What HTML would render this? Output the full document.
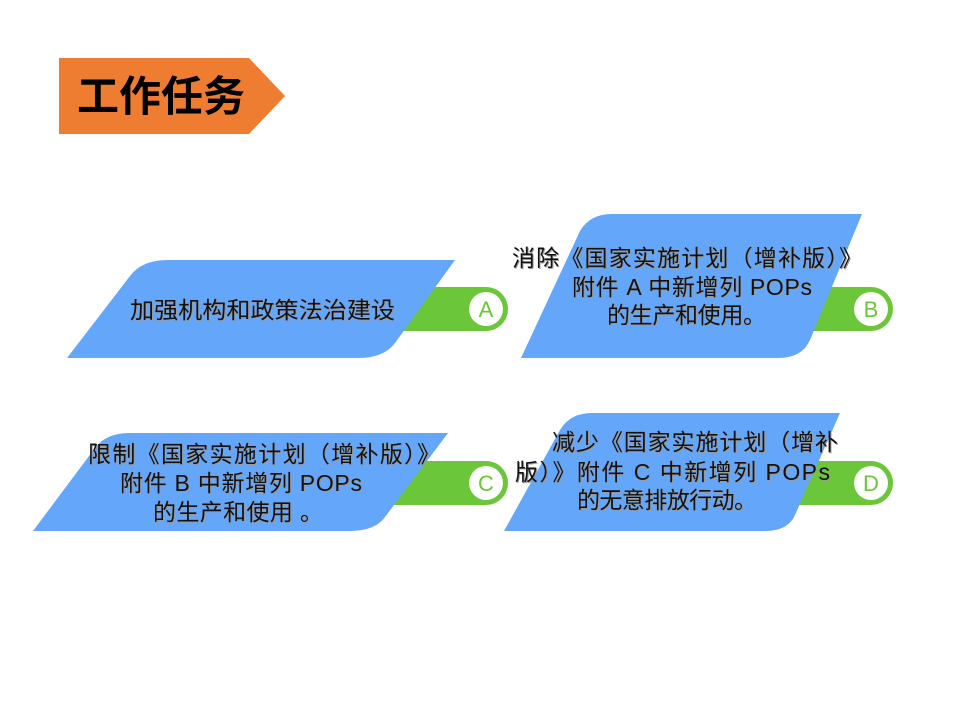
<!DOCTYPE html>
<html><head><meta charset="utf-8"><style>
html,body{margin:0;padding:0;background:#fff;}
svg{display:block}
text{font-family:"Liberation Sans","Noto Sans CJK SC",sans-serif;}
.t{font-size:23px;fill:#111;}
.s{font-size:23px;fill:#9a9a9a;}
.l{font-size:22px;fill:#6cc63a;text-anchor:middle;}
</style></head><body>
<svg width="960" height="720" viewBox="0 0 960 720">
<rect width="960" height="720" fill="#fff"/>
<polygon points="59,58 249,58 285,96 249,134 59,134" fill="#ef7d31"/>
<text x="161" y="111" style="font-size:42px;font-weight:bold;text-anchor:middle;fill:#000">工作任务</text>

<!-- A -->
<path d="M405,287 L486,287 A22,22 0 0 1 486,331 L390,331 Z" fill="#6cc63a"/>
<circle cx="486" cy="309" r="17" fill="#fff"/>
<text class="l" x="486" y="317">A</text>
<path d="M67,358 L130,276 Q142,260 168,260 L455,260 L395,343 Q384,358 358,358 Z" fill="#64a6fa"/>
<text class="s" x="131" y="319" textLength="265" lengthAdjust="spacingAndGlyphs">加强机构和政策法治建设</text>
<text class="t" x="130" y="318" textLength="265" lengthAdjust="spacingAndGlyphs">加强机构和政策法治建设</text>

<!-- B -->
<path d="M800,287 L871,287 A22,22 0 0 1 871,331 L790,331 Z" fill="#6cc63a"/>
<circle cx="871" cy="309" r="17" fill="#fff"/>
<text class="l" x="871" y="317">B</text>
<path d="M521,358 L580,231 Q590,214 612,214 L862,214 L810,340 Q802,358 778,358 Z" fill="#64a6fa"/>
<text class="s" x="513" y="267" textLength="350" lengthAdjust="spacing">消除《国家实施计划（增补版）》</text>
<text class="t" x="512" y="266" textLength="350" lengthAdjust="spacing">消除《国家实施计划（增补版）》</text>
<text class="s" x="573" y="296" textLength="240" lengthAdjust="spacing">附件 A 中新增列 POPs</text>
<text class="t" x="572" y="295" textLength="240" lengthAdjust="spacing">附件 A 中新增列 POPs</text>
<text class="s" x="608" y="324" textLength="159" lengthAdjust="spacing">的生产和使用。</text>
<text class="t" x="607" y="323" textLength="159" lengthAdjust="spacing">的生产和使用。</text>

<!-- C -->
<path d="M400,461 L486,461 A22,22 0 0 1 486,505 L380,505 Z" fill="#6cc63a"/>
<circle cx="486" cy="483" r="17" fill="#fff"/>
<text class="l" x="486" y="491">C</text>
<path d="M33,531 L95,448 Q106,433 130,433 L448,433 L385,517 Q375,531 350,531 Z" fill="#64a6fa"/>
<text class="s" x="89" y="463" textLength="352" lengthAdjust="spacing">限制《国家实施计划（增补版）》</text>
<text class="t" x="88" y="462" textLength="352" lengthAdjust="spacing">限制《国家实施计划（增补版）》</text>
<text class="s" x="121" y="492" textLength="242" lengthAdjust="spacing">附件 B 中新增列 POPs</text>
<text class="t" x="120" y="491" textLength="242" lengthAdjust="spacing">附件 B 中新增列 POPs</text>
<text class="s" x="154" y="521" textLength="170" lengthAdjust="spacing">的生产和使用 。</text>
<text class="t" x="153" y="520" textLength="170" lengthAdjust="spacing">的生产和使用 。</text>

<!-- D -->
<path d="M800,461 L871,461 A22,22 0 0 1 871,505 L790,505 Z" fill="#6cc63a"/>
<circle cx="871" cy="483" r="17" fill="#fff"/>
<text class="l" x="871" y="491">D</text>
<path d="M504,531 L560,430 Q570,413 592,413 L840,413 L795,515 Q788,531 765,531 Z" fill="#64a6fa"/>
<text class="s" x="553" y="451" textLength="286" lengthAdjust="spacing">减少《国家实施计划（增补</text>
<text class="t" x="552" y="450" textLength="286" lengthAdjust="spacing">减少《国家实施计划（增补</text>
<text class="s" x="516" y="481" textLength="315" lengthAdjust="spacing">版）》附件 C 中新增列 POPs</text>
<text class="t" x="515" y="480" textLength="315" lengthAdjust="spacing">版）》附件 C 中新增列 POPs</text>
<text class="s" x="578" y="509" textLength="180" lengthAdjust="spacing">的无意排放行动。</text>
<text class="t" x="577" y="508" textLength="180" lengthAdjust="spacing">的无意排放行动。</text>
</svg>
</body></html>
